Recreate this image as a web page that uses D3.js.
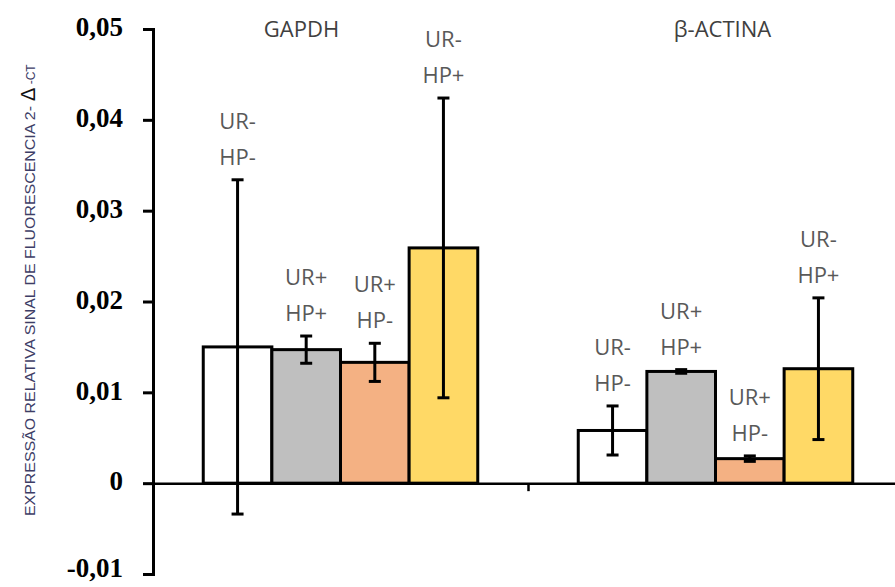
<!DOCTYPE html>
<html>
<head>
<meta charset="utf-8">
<script src="https://cdn.jsdelivr.net/npm/d3@7/dist/d3.min.js"></script>
<style>
  html, body { margin: 0; padding: 0; background: #fff; }
  svg { display: block; }
</style>
</head>
<body>
<svg id="chart" width="895" height="587"></svg>
<script>
// ---- data ----
const categories = ["GAPDH", "β-ACTINA"];
const seriesNames = ["UR- HP-", "UR+ HP+", "UR+ HP-", "UR- HP+"];
const seriesLabelLines = [["UR-", "HP-"], ["UR+", "HP+"], ["UR+", "HP-"], ["UR-", "HP+"]];
const seriesColors = ["#FFFFFF", "#BFBFBF", "#F4B183", "#FFD966"];
const gapdhValues = [0.0150, 0.0147, 0.0133, 0.0259];
const gapdhErrors = [0.0184, 0.0015, 0.0021, 0.0165];
const actinaValues = [0.0058, 0.0123, 0.0027, 0.0126];
const actinaErrors = [0.0027, 0.0002, 0.0003, 0.0078];
const yTicks = [-0.01, 0, 0.01, 0.02, 0.03, 0.04, 0.05];
const yTitle = "EXPRESSÃO RELATIVA SINAL DE FLUORESCENCIA 2-";

const valuesByCat = [gapdhValues, actinaValues];
const errorsByCat = [gapdhErrors, actinaErrors];
const rows = [];
categories.forEach((c, ci) => {
  seriesNames.forEach((s, si) => {
    rows.push({cat: c, ser: s, si, value: valuesByCat[ci][si], err: errorsByCat[ci][si]});
  });
});

// ---- layout ----
const svg = d3.select("#chart");
const axisX = 153, rightX = 903;
const y = d3.scaleLinear().domain([-0.01, 0.05]).range([574, 29]);
const x = d3.scaleBand().domain(categories).range([axisX, rightX]).padding(0);
const bw = x.bandwidth();
const groupW = bw * 0.732;
const xs = d3.scaleBand().domain(seriesNames).range([(bw - groupW) / 2, (bw + groupW) / 2]).padding(0);

const locale = d3.formatLocale({decimal: ",", thousands: ".", grouping: [3], currency: ["", ""], minus: "-"});
const f2 = locale.format(".2f");

// bars
const g = svg.append("g");
g.selectAll("rect.bar").data(rows).join("rect")
  .attr("class", "bar")
  .attr("x", d => x(d.cat) + xs(d.ser))
  .attr("width", xs.bandwidth())
  .attr("y", d => y(Math.max(0, d.value)))
  .attr("height", d => Math.abs(y(d.value) - y(0)))
  .attr("fill", d => seriesColors[d.si])
  .attr("stroke", "#000")
  .attr("stroke-width", 3);

// x axis (category boundaries)
const xb = d3.scaleLinear().domain([0, categories.length]).range([axisX, rightX]);
svg.append("g")
  .attr("transform", `translate(0,${y(0)})`)
  .call(d3.axisBottom(xb).tickValues([1]).tickFormat("").tickSizeInner(8).tickSizeOuter(0))
  .call(a => a.select(".domain").attr("stroke", "#000").attr("stroke-width", 2.5))
  .call(a => a.selectAll(".tick line").attr("stroke", "#000").attr("stroke-width", 2.5));

// error bars
const cx = d => x(d.cat) + xs(d.ser) + xs.bandwidth() / 2;
const eg = svg.append("g").attr("stroke", "#000").attr("stroke-width", 3);
eg.selectAll("line.v").data(rows).join("line")
  .attr("x1", cx).attr("x2", cx)
  .attr("y1", d => y(d.value + d.err)).attr("y2", d => y(d.value - d.err));
eg.selectAll("line.t").data(rows).join("line")
  .attr("x1", d => cx(d) - 6).attr("x2", d => cx(d) + 6)
  .attr("y1", d => y(d.value + d.err)).attr("y2", d => y(d.value + d.err));
eg.selectAll("line.b").data(rows).join("line")
  .attr("x1", d => cx(d) - 6).attr("x2", d => cx(d) + 6)
  .attr("y1", d => y(d.value - d.err)).attr("y2", d => y(d.value - d.err));

// bar labels
const lg = svg.append("g")
  .attr("font-family", "'Open Sans', 'Noto Sans', sans-serif")
  .attr("font-size", 22)
  .attr("fill", "#595959")
  .attr("text-anchor", "middle");
rows.forEach(d => {
  const top = y(d.value + d.err);
  const t = lg.append("text").attr("x", cx(d)).attr("y", top - 51);
  seriesLabelLines[d.si].forEach((line, i) => {
    t.append("tspan").attr("x", cx(d)).attr("dy", i === 0 ? 0 : 36).text(line);
  });
});

// category titles
const titleOffsets = [-39, 7];
svg.append("g")
  .attr("font-family", "'Open Sans', 'Noto Sans', sans-serif")
  .attr("font-size", 22)
  .attr("fill", "#404040")
  .attr("text-anchor", "middle")
  .selectAll("text").data(categories).join("text")
  .attr("x", (c, i) => x(c) + bw / 2 + titleOffsets[i])
  .attr("y", 37)
  .text(c => c);

// y axis
svg.append("g")
  .attr("transform", `translate(${axisX},0)`)
  .call(d3.axisLeft(y).tickValues(yTicks).tickSizeInner(10).tickSizeOuter(10).tickPadding(20)
    .tickFormat(v => Math.abs(v) < 1e-9 ? "0" : f2(v)))
  .call(a => a.select(".domain").attr("stroke", "#000").attr("stroke-width", 3))
  .call(a => a.selectAll(".tick line").attr("stroke", "#000").attr("stroke-width", 3))
  .call(a => a.selectAll(".tick text")
    .attr("fill", "#000")
    .attr("font-family", "'Liberation Serif', 'Times New Roman', serif")
    .attr("font-weight", "bold")
    .attr("font-size", 27)
    .attr("dy", v => v < 0 ? "0.1em" : "0.25em"));

// y title
const yt = svg.append("text")
  .attr("transform", "translate(35,516) rotate(-90)")
  .attr("font-family", "'Liberation Sans Narrow', 'Liberation Sans', sans-serif")
  .attr("fill", "#3d3d66")
  .attr("font-size", 14);
yt.append("tspan").text(yTitle).attr("textLength", 410).attr("lengthAdjust", "spacingAndGlyphs");
yt.append("tspan").attr("font-size", 20).attr("fill", "#111").attr("dx", 5).text("Δ");
yt.append("tspan").attr("font-size", 12).text(" -CT");
</script>
</body>
</html>
